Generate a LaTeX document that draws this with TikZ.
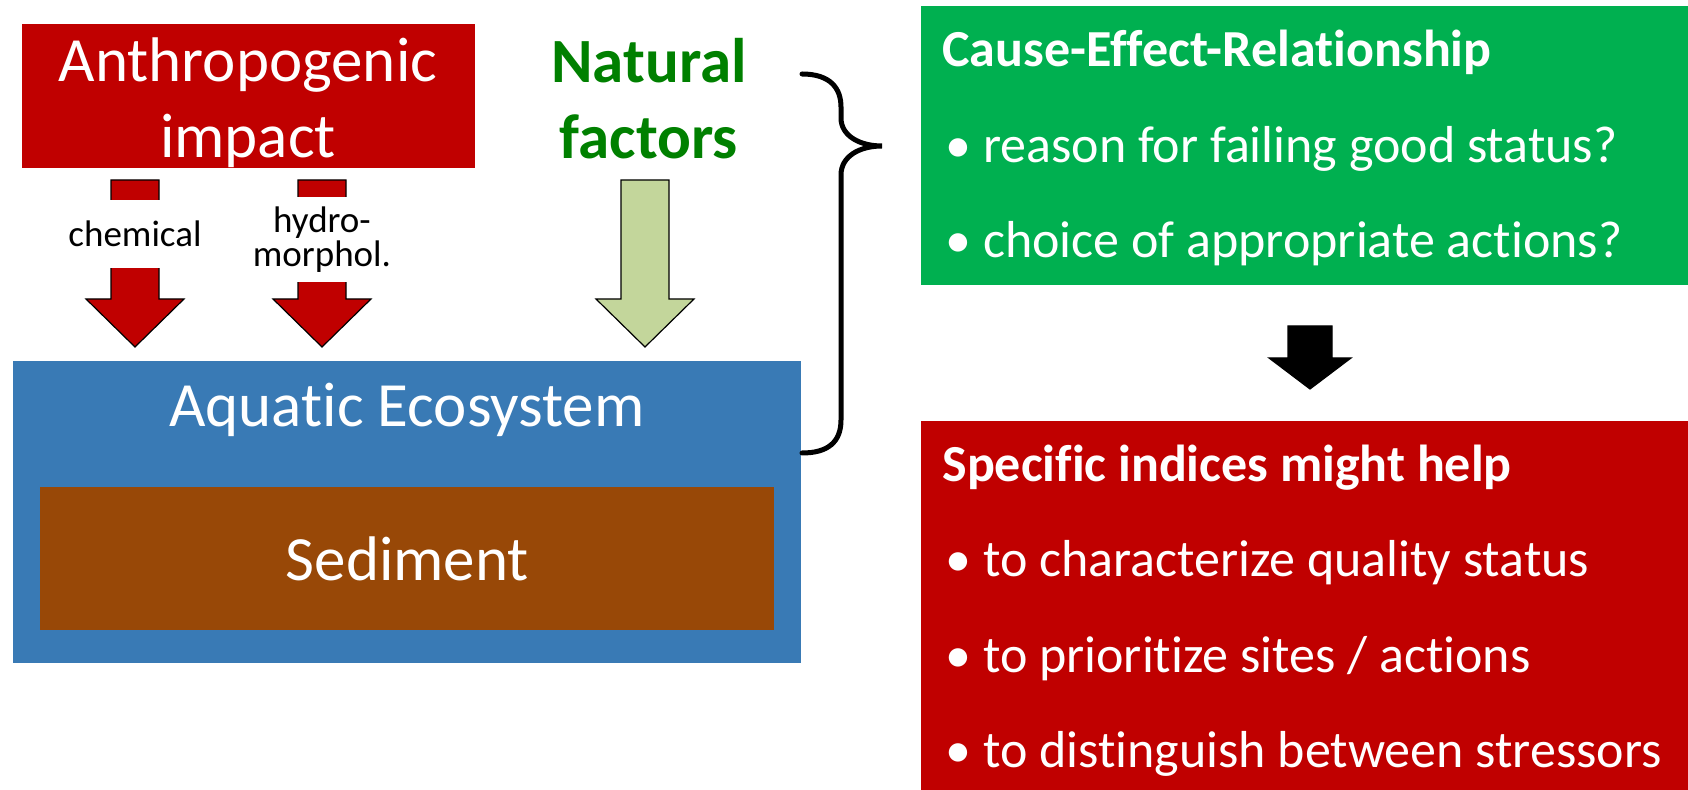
\documentclass[tikz,border=0pt]{standalone}
\usepackage{fontspec}
\setmainfont{Carlito}[Ligatures=NoCommon]
\usepackage{tikz}
\usetikzlibrary{positioning}

\definecolor{impactred}{RGB}{192,0,0}
\definecolor{ecoblue}{RGB}{57,122,181}
\definecolor{sedbrown}{RGB}{152,72,7}
\definecolor{causegreen}{RGB}{0,176,80}
\definecolor{natgreen}{RGB}{0,128,0}
\definecolor{natarrow}{RGB}{195,214,155}

\tikzset{
        box/.style = {rectangle, inner sep=0pt, anchor=north west},
        bigtext/.style = {font=\fontsize{31.5}{38}\selectfont, text=white, align=center},
        listtext/.style = {font=\fontsize{26}{31}\selectfont, text=white, anchor=base west, inner sep=0pt},
        smalllabel/.style = {fill=white, inner sep=0pt, align=center, font=\fontsize{18.5}{15.5}\selectfont},
        blockarrow/.style = {draw=black, line width=0.6pt, line join=miter},
        brace/.style = {line width=2.5pt, line cap=round}
}

% fill, x, top, head start, tip, half shaft, half head
\newcommand{\blockdown}[7]{%
        \draw[blockarrow, fill=#1] (#2-#6,#3) -- (#2+#6,#3) -- (#2+#6,#4) -- (#2+#7,#4)
                -- (#2,#5) -- (#2-#7,#4) -- (#2-#6,#4) -- cycle;}

\begin{document}
\begin{tikzpicture}[x=0.5pt, y=-0.5pt]
        \useasboundingbox (0,0) rectangle (1688,790);

        % left part
        \node(anthro)[box, fill=impactred, minimum width=226.75pt, minimum height=72pt] at (21.5,23.5) {};
        \node(anthrolbl)[bigtext] at (248,103) {Anthropogenic\\impact};
        \node(natural)[bigtext, text=natgreen, font=\fontsize{31.5}{38}\selectfont\bfseries] at (649,99) {Natural\\factors};

        \blockdown{impactred}{135}{180}{299}{347}{24}{49}
        \blockdown{impactred}{322}{180}{299}{347}{24}{49}
        \blockdown{natarrow}{645}{180}{299}{347}{24}{49}

        \node(chem)[smalllabel, minimum height=34pt] at (135,234) {chemical};
        \node(hydro)[smalllabel, minimum height=42.5pt] at (322,239.5) {hydro-\\morphol.};

        \node(aquatic)[box, fill=ecoblue, minimum width=394pt, minimum height=151pt] at (13,361) {};
        \node(aqualbl)[bigtext, anchor=base] at (407,427) {Aquatic Ecosystem};
        \node(sediment)[box, fill=sedbrown, minimum width=367pt, minimum height=71.5pt] at (40,487) {};
        \node(sedlbl)[bigtext] at (sediment.center) {Sediment};

        % brace
        \coordinate(bracetop) at (802,74);
        \coordinate(bracetip) at (882,146);
        \coordinate(bracebot) at (802,453);
        \draw[brace] (bracetop) .. controls (830,74) and (841,88) .. (841,107) -- (841,118)
                .. controls (841,136) and (860,146) .. (bracetip)
                .. controls (860,146) and (841,156) .. (841,175) -- (841,420)
                .. controls (841,442) and (828,453) .. (bracebot);

        % right part
        \node(cause)[box, fill=causegreen, minimum width=383.5pt, minimum height=139.5pt] at (921,6) {};
        \node(causetitle)[listtext, font=\fontsize{26}{31}\selectfont\bfseries] at (942,67) {Cause-Effect-Relationship};
        \node(reason)[listtext] at (945,163) {•~reason for failing good status?};
        \node(choice)[listtext] at (945,258) {•~choice of appropriate actions?};

        \blockdown{black}{1310}{326}{358}{389}{22}{41}

        \node(helps)[box, fill=impactred, minimum width=383.5pt, minimum height=184.5pt] at (921,421) {};
        \node(helptitle)[listtext, font=\fontsize{26}{31}\selectfont\bfseries] at (942,482) {Specific indices might help};
        \node(charact)[listtext] at (945,577) {•~to characterize quality status};
        \node(prior)[listtext] at (945,673) {•~to prioritize sites / actions};
        \node(distin)[listtext] at (945,768) {•~to distinguish between stressors};
\end{tikzpicture}
\end{document}
